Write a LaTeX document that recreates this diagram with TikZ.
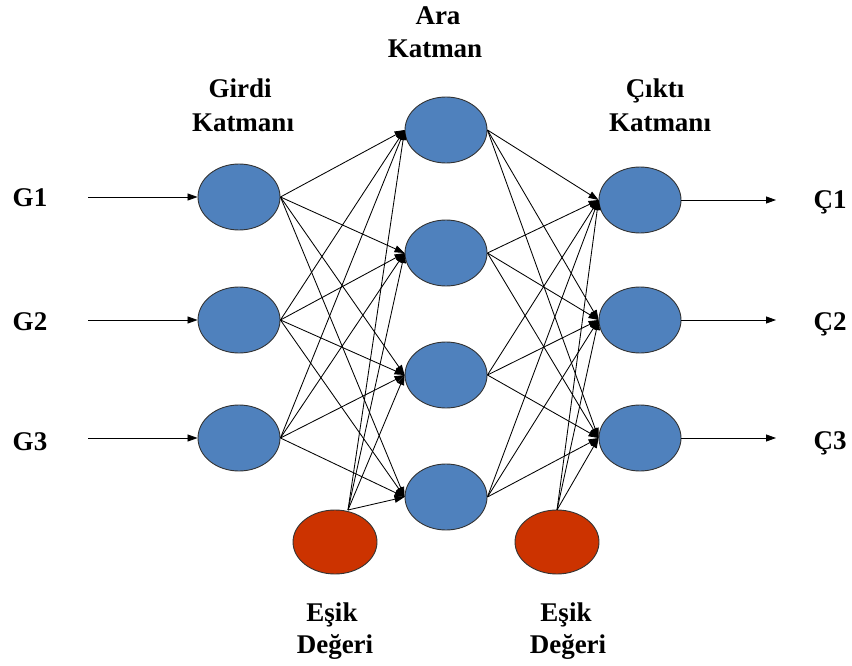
\documentclass[tikz,border=0pt]{standalone}
\usepackage{fontspec}
\setmainfont{Liberation Serif}
\usetikzlibrary{arrows.meta,shapes.geometric}
\definecolor{nblue}{HTML}{4F81BD}
\definecolor{nred}{HTML}{CC3300}
\tikzset{
  neuron/.style={ellipse, draw=black!80, line width=0.9pt, fill=nblue, minimum width=82pt, minimum height=66pt, inner sep=0pt},
  bias/.style={neuron, fill=nred, minimum width=84pt, minimum height=64pt},
  lab/.style={font=\bfseries\fontsize{27}{34}\selectfont, inner sep=0pt, anchor=base},
  conn/.style={line width=0.85pt, -{Triangle[length=10pt,width=7pt]}},
}
\begin{document}
\begin{tikzpicture}[x=1pt,y=-1pt]
\useasboundingbox (0,0) rectangle (852,666);
% input layer
\node[neuron] (i1) at (239,197) {};
\node[neuron] (i2) at (239,320) {};
\node[neuron] (i3) at (239,438) {};
% hidden layer
\node[neuron] (h1) at (446,130) {};
\node[neuron] (h2) at (446,253) {};
\node[neuron] (h3) at (446,375) {};
\node[neuron] (h4) at (446,497) {};
% output layer
\node[neuron] (o1) at (640,200) {};
\node[neuron] (o2) at (640,320) {};
\node[neuron] (o3) at (640,438) {};
% bias
\node[bias] (b1) at (335,542) {};
\node[bias] (b2) at (557,542) {};
\coordinate (b1t) at (348,510);
\coordinate (b2t) at (557,510);
% labels
\node[lab] (g1) at (30,207) {G1};
\node[lab] (g2) at (30,330) {G2};
\node[lab] (g3) at (30,450) {G3};
\node[lab] (c1) at (830,208) {Ç1};
\node[lab] (c2) at (830,330) {Ç2};
\node[lab] (c3) at (830,449) {Ç3};
\node[lab] (lin1) at (240,98) {Girdi};
\node[lab] (lin2) at (243,132) {Katmanı};
\node[lab] (lhid1) at (438,25) {Ara};
\node[lab] (lhid2) at (435,58) {Katman};
\node[lab] (lout1) at (655,98) {Çıktı};
\node[lab] (lout2) at (660,132) {Katmanı};
\node[lab] (lb1a) at (332,621) {Eşik};
\node[lab] (lb1b) at (335,653) {Değeri};
\node[lab] (lb2a) at (566,621) {Eşik};
\node[lab] (lb2b) at (568,653) {Değeri};
% input arrows
\coordinate (s1) at (88,197);
\coordinate (s2) at (88,320);
\coordinate (s3) at (88,438);
\draw[conn] (s1) -- (i1.west);
\draw[conn] (s2) -- (i2.west);
\draw[conn] (s3) -- (i3.west);
% output arrows
\coordinate (e1) at (776,200);
\coordinate (e2) at (776,320);
\coordinate (e3) at (776,438);
\draw[conn] (o1.east) -- (e1);
\draw[conn] (o2.east) -- (e2);
\draw[conn] (o3.east) -- (e3);
% input to hidden
\foreach \i in {i1,i2,i3,b1t}{
  \foreach \h in {h1,h2,h3,h4}{
    \draw[conn] (\i.east) -- (\h.west);
  }
}
% hidden to output
\foreach \h in {h1,h2,h3,h4,b2t}{
  \foreach \o in {o1,o2,o3}{
    \draw[conn] (\h.east) -- (\o.west);
  }
}
\end{tikzpicture}
\end{document}
